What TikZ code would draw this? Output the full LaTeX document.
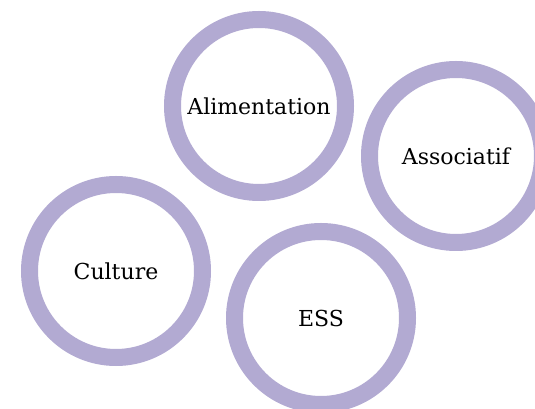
\documentclass[tikz,border=0pt]{standalone}
\usepackage{fontspec}
\setmainfont{DejaVu Serif}
\definecolor{lavanda}{RGB}{178,170,210}

\begin{document}
\begin{tikzpicture}[x=1pt, y=1pt,
    anell/.style={circle, draw=lavanda, line width=17pt, minimum size=173pt,
        inner sep=0pt, font=\fontsize{22}{26}\selectfont}]
    \useasboundingbox (0,0) rectangle (535,409);
    \clip (0,0) rectangle (535,409);

    % Cercles
    \node[anell] (alim) at (259,303) {Alimentation};
    \node[anell] (assoc) at (456,253) {Associatif};
    \node[anell] (cult) at (116,138) {Culture};
    \node[anell] (ess) at (321,91) {ESS};
\end{tikzpicture}
\end{document}
